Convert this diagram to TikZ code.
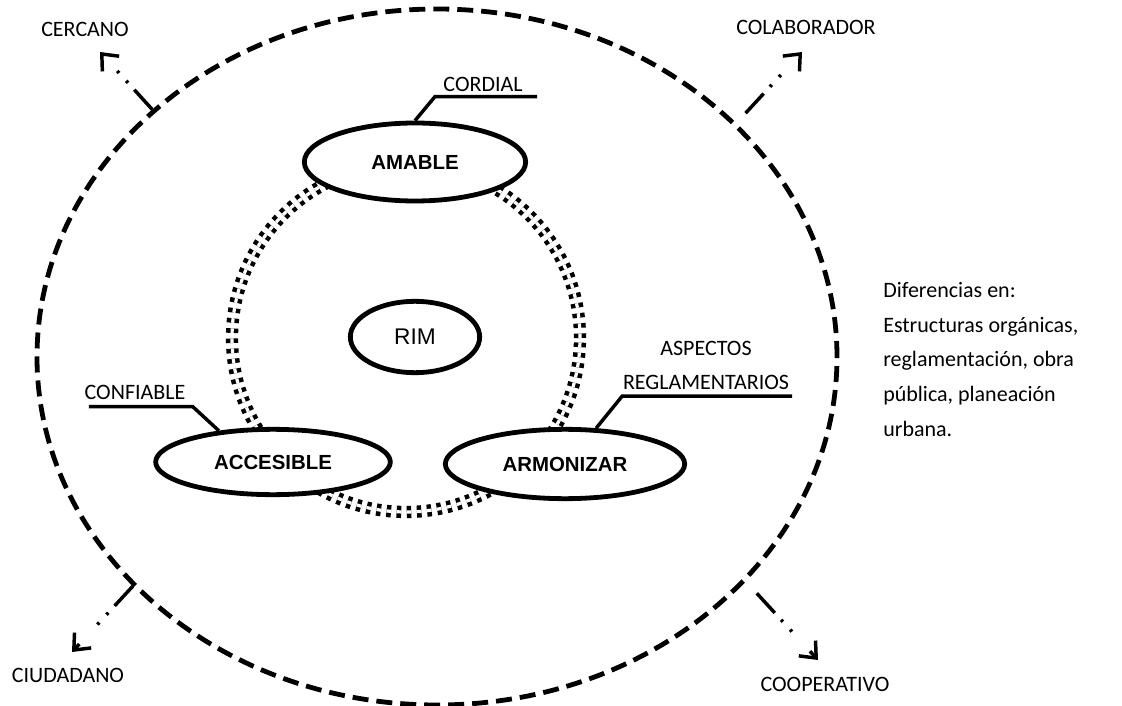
\documentclass[tikz,border=0pt]{standalone}
\usepackage{fontspec}
\setmainfont{Carlito}
\newfontfamily\arialfont{Liberation Sans}
\usetikzlibrary{shapes.geometric,arrows.meta}

\begin{document}
\begin{tikzpicture}[
  x=0.75pt, y=-0.75pt,
  oval/.style={ellipse, draw, line width=3.6pt, fill=white, inner sep=0pt, font=\arialfont\bfseries\fontsize{15.3}{18}\selectfont},
  tag/.style={inner sep=0pt, align=center, font=\fontsize{16.5}{25.5}\selectfont},
  leader/.style={line width=2.6pt},
  salida/.style={line width=2.6pt, dash pattern=on 20pt off 7pt on 2pt off 8pt on 2pt off 20pt, -{Straight Barb[length=10pt,width=17pt]}},
  anillo/.style={double, line width=3.4pt, double distance=2.4pt, dash pattern=on 3.4pt off 4.2pt}
]
\useasboundingbox (0,0) rectangle (1122,706);

% Outer boundary
\node[ellipse, draw, line width=3.6pt, dash pattern=on 12pt off 6pt, minimum width=600pt, minimum height=522pt, inner sep=0pt] (limite) at (437,357) {};

% Ring
\draw[anillo] (406,338) circle[radius=130.5pt];

% Qualities
\node[oval, minimum width=166pt, minimum height=58.5pt] (amable) at (415,162) {AMABLE};
\node[oval, minimum width=176pt, minimum height=49pt] (accesible) at (273,462) {ACCESIBLE};
\node[oval, minimum width=179.5pt, minimum height=52pt] (armonizar) at (565,464) {ARMONIZAR};
\node[oval, font=\arialfont\fontsize{17}{20}\selectfont, minimum width=97pt, minimum height=53.5pt] (rim) at (415,337) {RIM};

% Labels
\node[tag] (cordial) at (483,84) {CORDIAL};
\node[tag] (confiable) at (135,392) {CONFIABLE};
\node[tag] (aspectos) at (706,365) {ASPECTOS\\REGLAMENTARIOS};
\node[tag] (cercano) at (85,29) {CERCANO};
\node[tag] (colaborador) at (806,27) {COLABORADOR};
\node[tag] (ciudadano) at (68,675) {CIUDADANO};
\node[tag] (cooperativo) at (825,684) {COOPERATIVO};
\node[tag, anchor=north west, align=left, font=\fontsize{16.5}{26}\selectfont] (diferencias) at (883,282) {Diferencias en:\\Estructuras orgánicas,\\reglamentación, obra\\pública, planeación\\urbana.};

% Leaders
\draw[leader] (amable.north) -- ++(20,-24) -- ++(102,0);
\draw[leader] (accesible.150) -- ++(-26,-24) -- ++(-104,0);
\draw[leader] (armonizar.49) -- ++(26,-32) -- ++(170,0);

% Outward arrows
\coordinate (fcercano) at (100,52);
\coordinate (fcolaborador) at (802,52);
\coordinate (fciudadano) at (72,652);
\coordinate (fcooperativo) at (818,660);
\draw[salida] (limite.139) -- (fcercano);
\draw[salida, shorten <=10pt] (limite.38) -- (fcolaborador);
\draw[salida] (limite.217) -- (fciudadano);
\draw[salida, shorten <=12pt] (limite.324) -- (fcooperativo);

\end{tikzpicture}
\end{document}
